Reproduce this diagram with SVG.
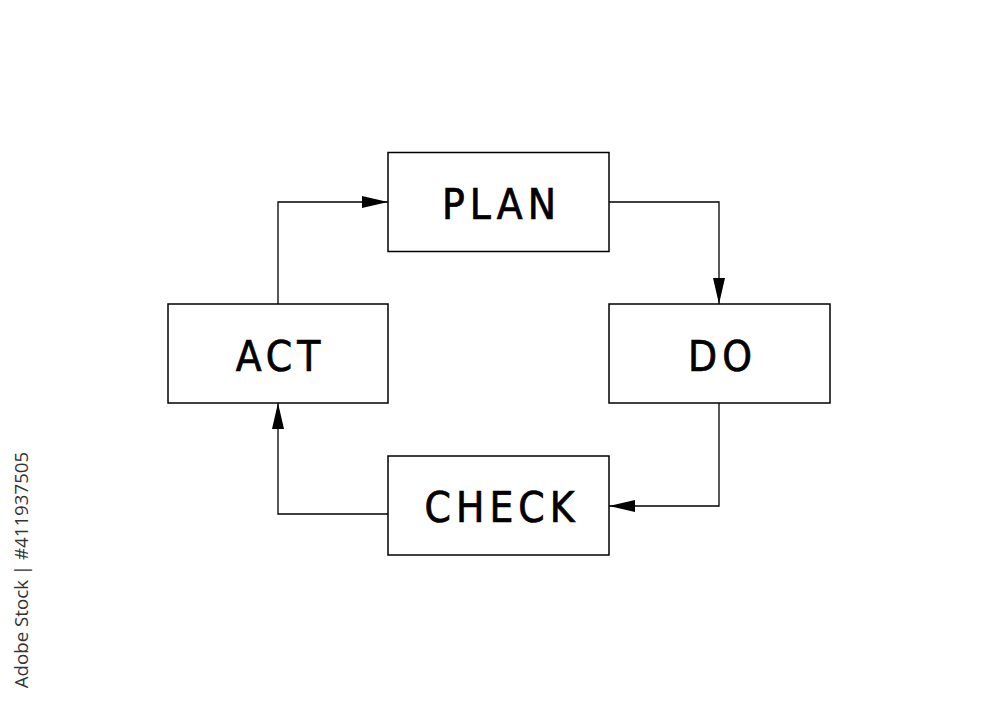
<svg xmlns="http://www.w3.org/2000/svg" width="1000" height="707" viewBox="0 0 1000 707">
<defs>
<marker id="arr" viewBox="0 0 26 12" refX="26" refY="6" markerWidth="26" markerHeight="12" markerUnits="userSpaceOnUse" orient="auto">
<path d="M0,0 L26,6 L0,12 Z" fill="#000"/>
</marker>
</defs>
<style>
.box{fill:#fff;stroke:#000;stroke-width:1.5}
.lbl{font-family:"DejaVu Sans Condensed","DejaVu Sans",sans-serif;font-stretch:condensed;font-size:42px;letter-spacing:5px;text-anchor:middle;fill:#000;stroke:#000;stroke-width:0.7}
.edge{fill:none;stroke:#000;stroke-width:1.3;marker-end:url(#arr)}
.wm{font-family:"Open Sans","Noto Sans",sans-serif;font-size:18.7px;fill:#333}
</style>
<rect width="1000" height="707" fill="#fff"/>
<g id="connectors">
<path class="edge" d="M609,202 H719 V304"/>
<path class="edge" d="M719,403 V506 H609"/>
<path class="edge" d="M388,514 H278 V403"/>
<path class="edge" d="M278,304 V202 H388"/>
</g>
<g id="plan"><rect class="box" x="388" y="152.5" width="221" height="99"/><text class="lbl" x="501.5" y="219">PLAN</text></g>
<g id="do"><rect class="box" x="609" y="304" width="221" height="99"/><text class="lbl" x="722.5" y="371">DO</text></g>
<g id="check"><rect class="box" x="388" y="456" width="221" height="99"/><text class="lbl" x="502" y="522">CHECK</text></g>
<g id="act"><rect class="box" x="168" y="304" width="220" height="99"/><text class="lbl" x="280.5" y="371">ACT</text></g>
<text class="wm" transform="translate(28,570) rotate(-90)" text-anchor="middle">Adobe Stock | #411937505</text>
</svg>
